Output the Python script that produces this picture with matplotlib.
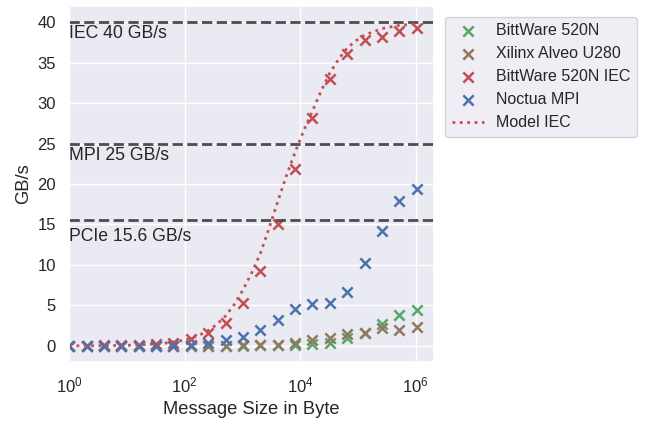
import matplotlib
matplotlib.use("Agg")
import matplotlib.pyplot as plt
import seaborn as sns

sns.set_theme()
plt.rcParams['font.family'] = ['Liberation Sans', 'DejaVu Sans']

# message sizes in byte, 2^0 .. 2^20
sizes = [2 ** k for k in range(21)]

# measured bandwidth in GB/s
bw_520n = [0.0, 0.0, 0.0, 0.0, 0.0, 0.0, 0.0, 0.0, 0.0, 0.0, 0.02,
           0.05, 0.08, 0.15, 0.2, 0.4, 0.95, 1.6, 2.7, 3.8, 4.45]
bw_u280 = [0.0, 0.0, 0.0, 0.0, 0.0, 0.0, 0.0, 0.02, 0.03, 0.04, 0.05,
           0.05, 0.15, 0.3, 0.75, 1.0, 1.5, 1.65, 2.2, 2.0, 2.3]
bw_520n_iec = [0.01, 0.02, 0.05, 0.1, 0.15, 0.2, 0.35, 0.8, 1.55, 2.8, 5.3,
               9.3, 15.0, 21.8, 28.2, 33.0, 36.0, 37.8, 38.1, 38.9, 39.3]
bw_noctua = [0.0, 0.0, 0.0, 0.0, 0.0, 0.0, 0.02, 0.1, 0.3, 0.7, 1.15,
             2.0, 3.2, 4.5, 5.2, 5.25, 6.6, 10.3, 14.2, 17.9, 19.4]

# model curve (sizes 2^0 .. 2^20, half steps)
model_sizes = [2 ** (k / 2) for k in range(41)]
model_iec = [0.007, 0.01, 0.014, 0.02, 0.03, 0.042, 0.06, 0.085, 0.12, 0.17,
             0.24, 0.34, 0.48, 0.67, 0.95, 1.33, 1.9, 2.65, 3.7, 5.1,
             6.9, 9.0, 11.4, 14.5, 17.8, 21.0, 23.9, 26.6, 29.0, 31.5,
             33.7, 35.4, 36.8, 37.7, 38.4, 38.8, 39.2, 39.4, 39.6, 39.7, 39.8]

# peak bandwidth limits
limits = [40, 25, 15.6]
limit_labels = ["IEC 40 GB/s", "MPI 25 GB/s", "PCIe 15.6 GB/s"]
label_y = [38, 23, 13]

pal = sns.color_palette("deep")

fig = plt.figure(figsize=(6.46, 4.23), dpi=100)
ax = fig.add_axes([0.107, 0.144, 0.565, 0.842])

for l in limits:
    ax.axhline(l, color="0.3", linestyle="--", linewidth=2)
for txt, ty in zip(limit_labels, label_y):
    ax.text(1, ty, txt, fontsize=12.7, color="0.15")

mk = dict(marker="x", s=55, linewidths=1.8)
ax.scatter(sizes, bw_520n, color=pal[2], label="BittWare 520N", **mk)
ax.scatter(sizes, bw_u280, color=pal[5], label="Xilinx Alveo U280", **mk)
ax.scatter(sizes, bw_520n_iec, color=pal[3], label="BittWare 520N IEC", **mk)
ax.scatter(sizes, bw_noctua, color=pal[0], label="Noctua MPI", **mk)
ax.plot(model_sizes, model_iec, linestyle=":", color=pal[3], linewidth=2, label="Model IEC")

ax.set_xscale("log")
ax.set_xlim(1, 2.1e6)
ax.set_xticks([1, 1e2, 1e4, 1e6])
ax.minorticks_off()
ax.set_ylim(-2, 42)
ax.set_yticks(range(0, 45, 5))
ax.tick_params(labelsize=12)
ax.set_xlabel("Message Size in Byte", fontsize=13.2)
ax.set_ylabel("GB/s", fontsize=13.2)

ax.legend(loc="upper left", bbox_to_anchor=(1.0, 1.0), borderaxespad=0.7, fontsize=11.5)

fig.savefig("out.png", dpi=100)
